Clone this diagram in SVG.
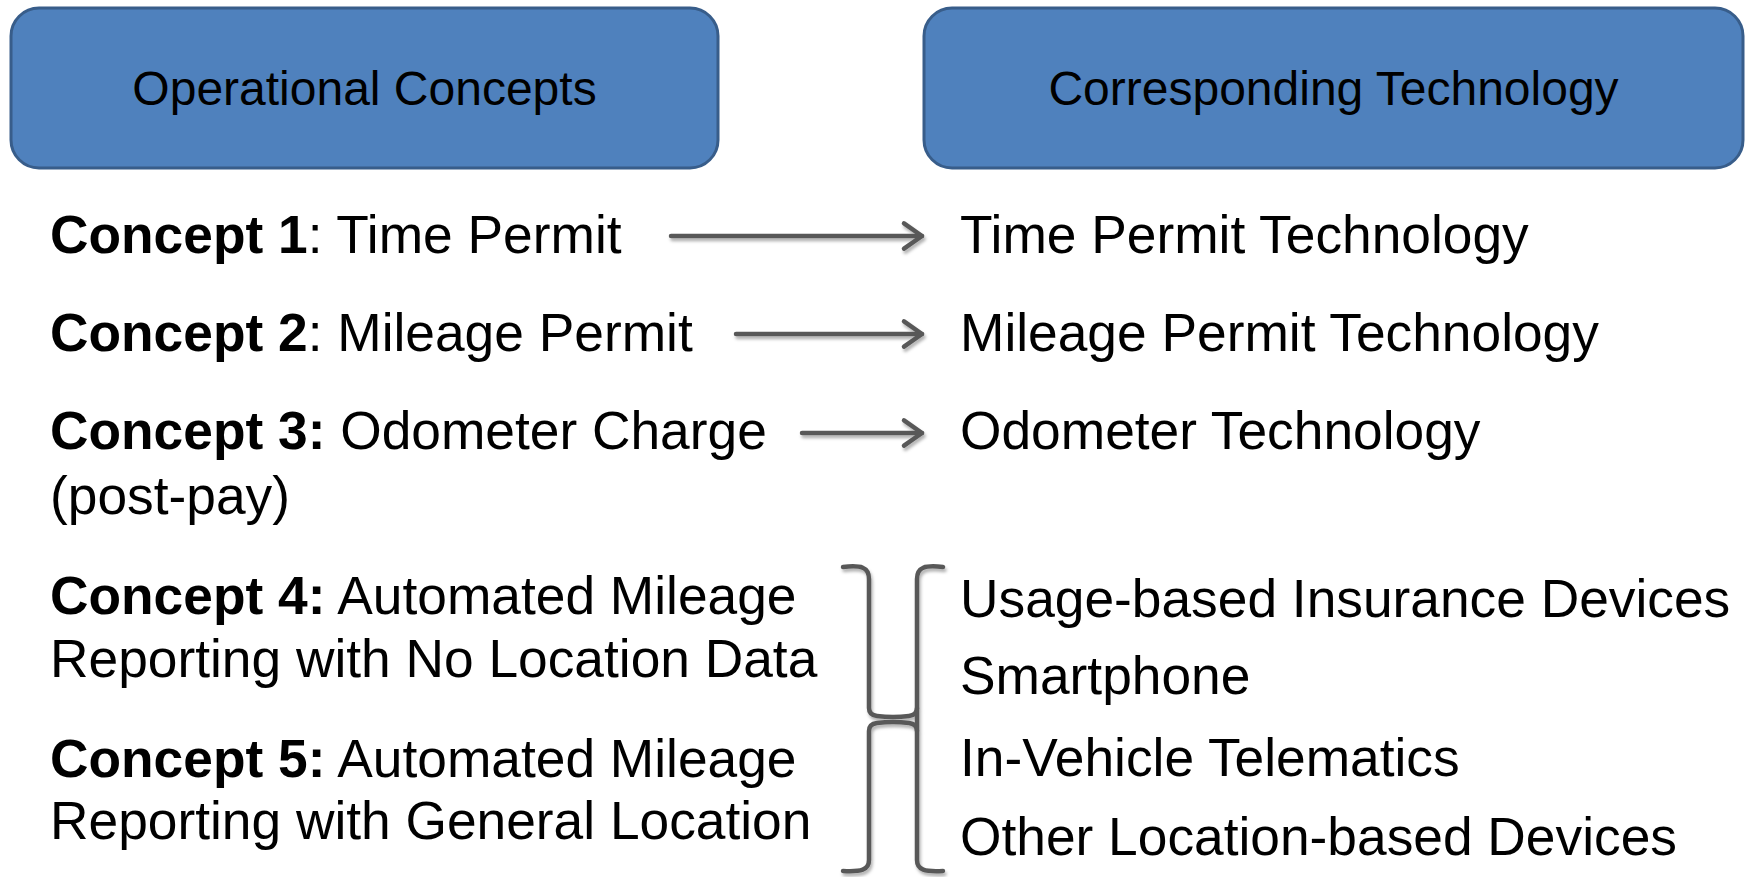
<svg xmlns="http://www.w3.org/2000/svg" width="1745" height="877" viewBox="0 0 1745 877">
<defs>
<style>
.hdr{fill:#4F81BD;stroke:#385D8A;stroke-width:3}
.ht{font-family:"Liberation Sans",Arial,sans-serif;font-size:48px;fill:#000;text-anchor:middle}
.t{font-family:"Liberation Sans",Arial,sans-serif;font-size:53.3px;fill:#000}
.b{font-weight:bold}
.ln{fill:none;stroke:#595959;stroke-width:4.5;stroke-linecap:round;stroke-linejoin:round}
</style>
<filter id="sh" x="-20%" y="-20%" width="140%" height="140%">
<feDropShadow dx="1.5" dy="3" stdDeviation="1.8" flood-color="#000" flood-opacity="0.3"/>
</filter>
<marker id="ah" markerWidth="8" markerHeight="8" refX="6.5" refY="4" orient="auto" markerUnits="strokeWidth">
<path d="M2.5,1.2 L6.5,4 L2.5,6.8" fill="none" stroke="#595959" stroke-width="1" stroke-linecap="round" stroke-linejoin="round"/>
</marker>
</defs>
<rect width="1745" height="877" fill="#fff"/>

<g id="hdr-concepts">
<rect class="hdr" x="11" y="8" width="707" height="160" rx="28"/>
<text class="ht" x="364.5" y="105">Operational Concepts</text>
</g>
<g id="hdr-technology">
<rect class="hdr" x="924" y="8" width="819" height="160" rx="28"/>
<text class="ht" x="1333.5" y="105">Corresponding Technology</text>
</g>

<g id="concept1"><text class="t" x="50" y="253"><tspan class="b">Concept 1</tspan>: Time Permit</text></g>
<g id="concept2"><text class="t" x="50" y="351"><tspan class="b">Concept 2</tspan>: Mileage Permit</text></g>
<g id="concept3"><text class="t" x="50" y="449"><tspan class="b">Concept 3:</tspan> Odometer Charge</text><text class="t" x="50" y="514">(post-pay)</text></g>
<g id="concept4"><text class="t" x="50" y="614"><tspan class="b">Concept 4:</tspan> Automated Mileage</text><text class="t" x="50" y="677">Reporting with No Location Data</text></g>
<g id="concept5"><text class="t" x="50" y="777"><tspan class="b">Concept 5:</tspan> Automated Mileage</text><text class="t" x="50" y="839">Reporting with General Location</text></g>

<g id="tech1"><text class="t" x="960" y="253">Time Permit Technology</text></g>
<g id="tech2"><text class="t" x="960" y="351">Mileage Permit Technology</text></g>
<g id="tech3"><text class="t" x="960" y="449">Odometer Technology</text></g>
<g id="tech4"><text class="t" x="960" y="617">Usage-based Insurance Devices</text></g>
<g id="tech5"><text class="t" x="960" y="694">Smartphone</text></g>
<g id="tech6"><text class="t" x="960" y="776">In-Vehicle Telematics</text></g>
<g id="tech7"><text class="t" x="960" y="855">Other Location-based Devices</text></g>

<g id="connectors" filter="url(#sh)">
<line class="ln" x1="671" y1="236" x2="922" y2="236" marker-end="url(#ah)"/>
<line class="ln" x1="736" y1="334" x2="922" y2="334" marker-end="url(#ah)"/>
<line class="ln" x1="802" y1="433" x2="922" y2="433" marker-end="url(#ah)"/>
<path class="ln" d="M843,567 C861,565 869,567 869,579 L869,708 Q869,715 877,716 Q893,718 909,716 Q917,715 917,708"/>
<path class="ln" d="M917,731 Q917,724 909,723 Q893,721 877,723 Q869,724 869,731 L869,860 C869,870 861,872 843,871"/>
<path class="ln" d="M943,567 C925,565 917,567 917,579 L917,860 C917,870 925,872 943,871"/>
</g>
</svg>
